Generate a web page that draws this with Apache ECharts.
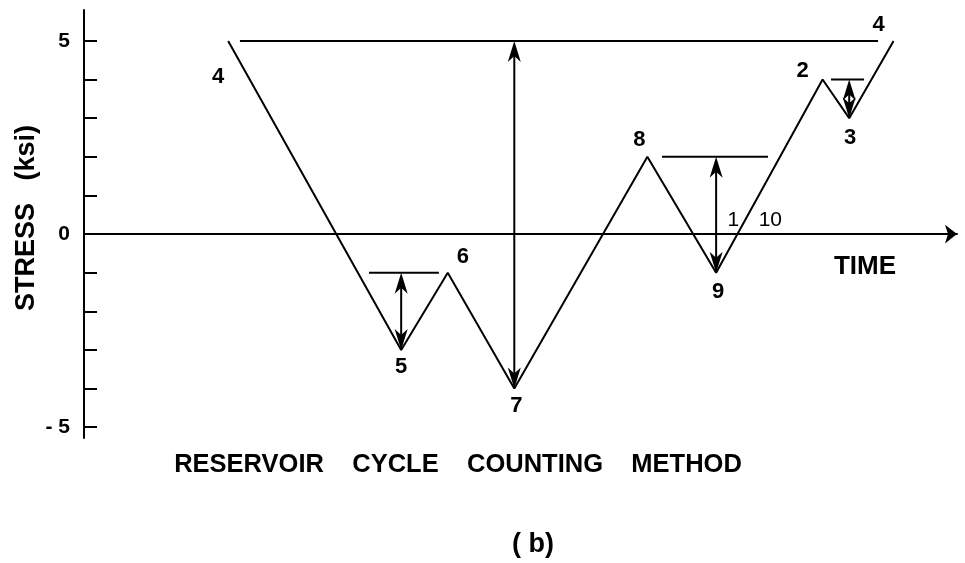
<!DOCTYPE html>
<html>
<head>
<meta charset="utf-8">
<script src="https://cdn.jsdelivr.net/npm/echarts@6/dist/echarts.min.js"></script>
<style>
  html, body { margin: 0; padding: 0; background: #fff; }
  #chart { width: 965px; height: 563px; }
</style>
</head>
<body>
<div id="chart"></div>
<script>
// Stress history: turning points (time in stress-range units, stress in ksi)
const times    = [0, 7.8, 9.9, 12.9, 18.9, 22, 26.8, 28, 30];
const stresses = [5, -3, -1, -4, 2, -1, 4, 3, 5];

// Reservoir water levels drawn as horizontal lines
const levelStart  = [0.53, 6.35, 19.56, 27.18];
const levelEnd    = [29.3, 9.5, 24.34, 28.67];
const levelStress = [5, -1, 2, 4];

// Counted cycle ranges (double-headed arrows)
const rangeTime   = [7.8, 12.9, 22, 28];
const rangeTop    = [-1, 5, 2, 4];
const rangeBottom = [-3, -4, -1, 3];

// Point numbering
const pointText   = ['4', '5', '6', '7', '8', '9', '1', '10', '2', '3', '4'];
const pointTime   = [0, 7.8, 9.9, 12.9, 18.9, 22, 23, 23, 26.8, 28, 30];
const pointStress = [5, -3, -1, -4, 2, -1, 0, 0, 4, 3, 5];

// Axis ticks and labels
const yTicks  = [-5, -4, -3, -2, -1, 0, 1, 2, 3, 4, 5];
const yLabels = [-5, 0, 5];

// Label placement relative to each numbered point (pixels)
const pointOffsets = [[-10, 36], [0, 17], [15, -16], [2, 17], [-8, -17], [2, 19],
                      [-5, -14], [32, -14], [-20, -9], [1, 20], [-15, -16]];

const FONT = '"Liberation Sans", Arial, sans-serif';
const INK = '#000';

const chart = echarts.init(document.getElementById('chart'), null, { renderer: 'canvas' });

function renderLevel(params, api) {
  const a = api.coord([api.value(0), api.value(2)]);
  const b = api.coord([api.value(1), api.value(2)]);
  return {
    type: 'line',
    shape: { x1: a[0], y1: a[1], x2: b[0], y2: b[1] },
    style: { stroke: INK, lineWidth: 2 }
  };
}

function arrowHead(tip, dir) {
  // dir = -1 points up, +1 points down
  const L = 21, W = 6.5, N = 15;
  return {
    type: 'polygon',
    shape: { points: [
      [tip[0], tip[1]],
      [tip[0] - W, tip[1] - dir * L],
      [tip[0], tip[1] - dir * N],
      [tip[0] + W, tip[1] - dir * L]
    ] },
    style: { fill: INK }
  };
}

function renderRange(params, api) {
  const top = api.coord([api.value(0), api.value(1)]);
  const bot = api.coord([api.value(0), api.value(2)]);
  return {
    type: 'group',
    children: [
      { type: 'line', shape: { x1: top[0], y1: top[1] + 6, x2: bot[0], y2: bot[1] - 6 },
        style: { stroke: INK, lineWidth: 2 } },
      arrowHead(top, -1),
      arrowHead(bot, 1)
    ]
  };
}

const option = {
  animation: false,
  backgroundColor: '#fff',
  grid: { left: 84, right: 8, top: 10, bottom: 125, outerBoundsMode: 'none', containLabel: false },
  xAxis: {
    type: 'value',
    min: -6.5,
    max: 32.86,
    axisLine: {
      onZero: true,
      symbol: ['none', 'arrow'],
      symbolSize: [14, 12],
      lineStyle: { color: INK, width: 2 }
    },
    axisTick: { show: false },
    axisLabel: { show: false },
    splitLine: { show: false }
  },
  yAxis: {
    type: 'value',
    min: -5.28,
    max: 5.8,
    axisLine: { onZero: false, lineStyle: { color: INK, width: 2 } },
    axisTick: {
      show: true, inside: true, length: 13, customValues: yTicks,
      lineStyle: { color: INK, width: 2 }
    },
    axisLabel: {
      show: true, customValues: yLabels, margin: 14,
      color: INK, fontFamily: FONT, fontWeight: 'bold', fontSize: 21,
      formatter: v => (v < 0 ? '- ' + Math.abs(v) : String(v))
    },
    splitLine: { show: false }
  },
  series: [
    {
      name: 'Stress history',
      type: 'line',
      data: times.map((t, i) => [t, stresses[i]]),
      symbol: 'none',
      lineStyle: { color: INK, width: 2 },
      z: 3
    },
    {
      name: 'Reservoir levels',
      type: 'custom',
      renderItem: renderLevel,
      data: levelStart.map((s, i) => [s, levelEnd[i], levelStress[i]]),
      z: 3
    },
    {
      name: 'Cycle ranges',
      type: 'custom',
      renderItem: renderRange,
      data: rangeTime.map((t, i) => [t, rangeTop[i], rangeBottom[i]]),
      z: 4
    },
    {
      name: 'Point numbers',
      type: 'scatter',
      symbolSize: 0,
      silent: true,
      itemStyle: { opacity: 1, color: INK },
      data: pointTime.map((t, i) => ({
        value: [t, pointStress[i]],
        label: {
          show: true,
          position: 'inside',
          offset: pointOffsets[i],
          formatter: pointText[i],
          color: INK,
          opacity: 1,
          fontFamily: FONT,
          fontSize: (pointText[i] === '1' || pointText[i] === '10') ? 21 : 22,
          fontWeight: (pointText[i] === '1' || pointText[i] === '10') ? 'normal' : 'bold'
        }
      })),
      z: 5
    }
  ],
  graphic: [
    {
      type: 'text', x: 27, y: 218, rotation: Math.PI / 2,
      style: { text: 'STRESS   (ksi)', fill: INK, font: 'bold 27px ' + FONT,
               align: 'center', verticalAlign: 'middle' }
    },
    {
      type: 'text', x: 865, y: 267,
      style: { text: 'TIME', fill: INK, font: 'bold 26px ' + FONT,
               align: 'center', verticalAlign: 'middle' }
    },
    {
      type: 'text', x: 458, y: 465,
      style: { text: 'RESERVOIR    CYCLE    COUNTING    METHOD', fill: INK,
               font: 'bold 25.5px ' + FONT, align: 'center', verticalAlign: 'middle' }
    },
    {
      type: 'text', x: 533, y: 545,
      style: { text: '( b)', fill: INK, font: 'bold 27px ' + FONT,
               align: 'center', verticalAlign: 'middle' }
    }
  ]
};

chart.setOption(option);
</script>
</body>
</html>
